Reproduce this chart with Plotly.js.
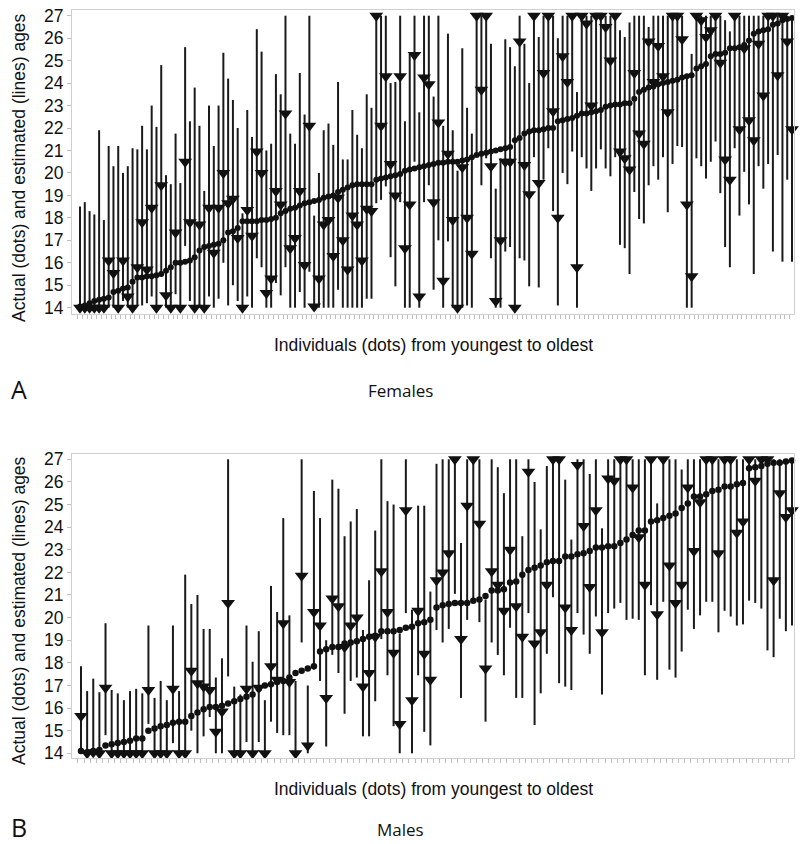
<!DOCTYPE html>
<html>
<head>
<meta charset="utf-8">
<script src="https://cdn.plot.ly/plotly-3.0.1.min.js"></script>
<style>html,body{margin:0;padding:0;background:#fff;}#chart{width:800px;height:844px;}</style>
</head>
<body>
<div id="chart"></div>
<script>
// ---------- Panel A: Females (150 individuals, youngest to oldest) ----------
const femaleActual = [
14.05,14.1,14.2,14.3,14.35,14.4,14.45,14.7,14.75,14.85,
14.9,15.15,15.35,15.35,15.4,15.4,15.45,15.5,15.65,15.8,
16.0,16.0,16.05,16.1,16.25,16.55,16.7,16.75,16.8,16.85,
17.0,17.35,17.4,17.55,17.85,17.85,17.85,17.85,17.9,17.9,
17.95,18.0,18.2,18.3,18.4,18.45,18.55,18.65,18.7,18.75,
18.8,18.9,18.95,19.0,19.15,19.25,19.35,19.45,19.5,19.5,
19.5,19.5,19.7,19.75,19.8,19.85,19.9,19.95,20.1,20.15,
20.2,20.25,20.3,20.35,20.4,20.45,20.45,20.5,20.5,20.5,
20.55,20.6,20.7,20.8,20.85,20.9,20.95,21.0,21.05,21.1,
21.15,21.45,21.55,21.75,21.85,21.9,21.9,21.95,22.0,22.0,
22.3,22.35,22.4,22.45,22.55,22.65,22.65,22.7,22.75,22.8,
22.95,23.0,23.05,23.05,23.1,23.1,23.3,23.6,23.7,23.8,
23.85,23.95,24.0,24.05,24.1,24.15,24.25,24.3,24.35,24.65,
24.75,24.85,25.2,25.3,25.3,25.35,25.55,25.55,25.6,25.7,
25.9,26.2,26.3,26.35,26.4,26.6,26.65,26.8,26.85,26.9
];
const femaleEstimate = [
14,14,14,14,14,14,16.1,15.55,14,16.1,
14.5,14,15.8,17.8,15.7,18.45,14,19.45,14.55,14,
17.35,14,20.5,17.8,14,17.7,14,18.45,16.45,18.45,
20.0,18.65,18.85,17.1,14,18.35,17.2,20.95,20.0,14.65,
15.3,19.2,18.6,22.65,16.65,17.1,19.2,15.9,22.1,14.05,
15.3,17.7,17.9,16.3,18.9,17.0,15.7,18.1,17.7,16.1,
18.4,18.3,27,22.1,24.3,20.4,19.0,24.3,16.65,18.6,
25.25,14.5,24.25,23.95,18.7,22.25,15.2,20.85,17.9,14,
20.25,18.0,16.4,27,23.7,27,20.3,14.3,17.0,20.5,
20.5,14,25.85,20.35,19.05,27,19.55,24.45,27,22.75,
18.0,25.2,24.05,27,15.8,27,26.65,23.0,27,27,
26.5,25.0,27,20.95,20.65,20.15,24.45,21.75,21.3,25.85,
24.05,25.65,24.3,22.7,27,27,25.95,18.6,15.4,27,
26.8,26.05,26.35,27,24.9,20.6,19.7,27,21.95,25.55,
22.35,21.45,25.75,23.45,27,27,24.35,27,25.85,21.95
];
const femaleLow = [
14,14,14,14,14,14,14,14,14,14.3,
14,14,14.1,14.1,14.2,14.5,14,15.4,14,14,
14.6,14,16.75,14.3,14,14,14,14.5,14,14.4,
16.0,14.1,15.0,14.3,14,14.5,14,16.2,15.8,14,
14,15.1,14.55,15.8,14,14,14.7,14,15.6,14,
14,14,14,14,14.8,14,14,14,14,14,
14.4,14.4,18.65,18.8,19.4,16.25,14.95,18.7,14,14,
20.5,14,18.7,19.45,14.8,17.0,14,16.95,14,14,
14,14.1,14,20.8,19.45,20.65,16.2,14,14,16.5,
16.7,14,16.2,16.1,14.95,20.7,14.9,19.7,21.1,18.3,
14.1,20.0,19.5,20.95,14,20.7,20.2,19.2,20.2,21.05,
20.2,19.85,20.7,16.8,16.65,15.5,19.15,17.95,17.75,19.45,
20.3,19.7,20.7,18.25,20.4,21.2,21.15,14,14,20.65,
20.3,19.75,20.5,21.4,19.1,16.7,15.8,21.1,18.1,20.05,
18.6,15.5,20.3,19.3,20.4,16.5,20.8,16.05,19.7,16.05
];
const femaleHigh = [
18.5,18.7,18.3,18.15,21.9,17.9,21.2,20.3,21.2,20.0,
20.3,21.1,21.05,22.1,21.05,23.0,22.05,24.8,19.9,19.5,
21.75,19.55,25.6,22.3,23.8,22.1,19.2,23.0,21.2,23.0,
25.35,24.2,23.25,22.0,18.2,22.8,21.6,26.4,25.4,21.0,
21.3,24.4,23.5,27,21.75,21.3,24.45,22.6,27,18.1,
20.0,21.9,22.2,21.25,24.05,20.6,20.6,22.8,21.7,21.1,
23.5,22.9,27,27,27,24.0,24.05,27,22.3,25.3,
27,22.7,27,27,23.4,27,22.1,26.2,21.9,20.1,
25.55,22.9,21.75,27,27,27,25.75,19.3,20.65,25.95,
25.6,24.75,27,25.75,24.0,27,26.05,27,27,27,
26.0,27,27,27,23.6,27,27,27,27,27,
27,27,27,26.35,26.05,26.7,27,27,27,26.5,
27,27,27,27,27,27,27,24.2,25.3,27,
27,27,27,27,27,26.8,26.3,27,27,27,
27,27,27,27,27,27,27,27,27,27
];

// ---------- Panel B: Males (117 individuals, youngest to oldest) ----------
const maleActual = [
14.1,14.05,14.1,14.15,14.35,14.4,14.45,14.5,14.55,14.65,
14.65,15.0,15.1,15.2,15.25,15.35,15.4,15.4,15.65,15.8,
15.95,16.05,16.05,16.1,16.2,16.3,16.4,16.5,16.6,16.85,
17.0,17.05,17.15,17.2,17.35,17.55,17.65,17.75,17.85,18.5,
18.6,18.7,18.7,18.85,18.9,18.95,19.05,19.15,19.2,19.4,
19.4,19.4,19.45,19.55,19.6,19.75,19.8,19.9,20.45,20.55,
20.6,20.65,20.65,20.65,20.75,20.8,20.95,21.2,21.2,21.25,
21.55,21.6,21.9,22.1,22.2,22.3,22.45,22.5,22.5,22.7,
22.7,22.8,22.85,22.95,23.1,23.1,23.15,23.15,23.3,23.45,
23.65,23.85,23.85,24.25,24.3,24.4,24.5,24.6,24.85,25.05,
25.35,25.35,25.45,25.6,25.65,25.8,25.8,25.9,25.95,26.6,
26.65,26.7,26.8,26.85,26.85,26.9,26.95
];
const maleEstimate = [
15.65,14,14.05,14,16.9,14,14,14,14,14,
14,16.8,14,14,14,16.85,14,14,17.65,17.1,
16.95,16.8,14.95,15.85,20.65,14,14,16.85,14,16.9,
14,17.85,17.25,19.75,17.15,14,21.85,14.35,20.25,19.65,
16.45,20.85,20.5,18.7,19.65,20.0,16.95,17.55,19.15,22.05,
20.25,18.45,15.3,24.75,16.35,20.3,18.4,17.25,21.65,22.0,
22.85,27,19.05,24.95,27,24.15,17.75,22.05,21.45,20.3,
23.0,20.5,19.15,26.45,18.85,19.35,21.45,27,27,20.45,
19.45,26.75,24.05,21.35,24.75,19.35,26.15,26.05,27,27,
25.75,23.55,21.45,27,20.15,27,22.3,20.65,21.45,25.75,
22.95,25.1,27,27,22.85,27,27,23.75,24.25,27,
26.05,27,27,21.65,25.5,24.45,24.75
];
const maleLow = [
14,14,14,14,14.8,14,14,14,14,14,
14,15.3,14,14,14,14.45,14,14,15.0,14,
14.75,15.6,14,14,17.4,14,14,14.5,14,14.5,
14,15.4,14.9,14.8,14.8,14,18.9,14,17.7,17.2,
14.3,18.35,17.55,15.75,17.2,17.35,14.75,14.75,16.3,19.05,
17.45,15.2,14,20.2,14,17.45,14.95,14.35,19.45,18.9,
19.5,21.05,16.45,19.9,20.8,19.8,15.4,18.9,18.35,17.45,
19.55,16.45,16.45,20.2,15.25,16.65,18.4,20.9,17.1,16.95,
16.8,20.2,19.25,18.4,20.05,16.6,20.2,20.4,20.65,19.9,
19.95,19.9,17.45,20.55,17.25,20.7,17.7,17.35,18.5,20.35,
19.5,20.1,20.7,20.7,19.35,20.3,20.05,19.65,19.7,20.75,
20.65,20.4,18.55,18.25,19.95,19.4,19.65
];
const maleHigh = [
17.85,16.75,17.3,16.7,19.75,16.8,16.65,16.35,16.75,16.85,
16.65,19.65,16.45,17.2,16.35,19.65,16.75,21.9,20.6,21.0,
19.5,19.5,17.35,18.2,27,16.95,16.6,19.65,18.05,19.4,
16.35,21.4,20.25,24.4,20.1,17.2,27,17.0,25.6,24.4,
19.0,26.1,25.7,23.6,24.25,24.8,19.45,21.65,23.85,27,
25.15,25.0,19.3,27,20.35,24.95,24.95,21.15,26.8,27,
27,27,23.3,27,27,27,20.8,27,26.65,25.5,
27,27,23.6,27,26.0,23.9,26.7,27,27,26.1,
23.45,27,27,26.35,27,23.95,27,27,27,27,
27,27,27,27,25.05,27,27,27,26.55,27,
27,27,27,27,27,27,27,27,27,27,
27,27,27,27,27,27,27
];

const femaleIdx = femaleActual.map((_, i) => i + 1);
const maleIdx = maleActual.map((_, i) => i + 1);

const INK = '#111111';
const ARIAL = 'Liberation Sans, Arial, sans-serif';
const SEGOE = 'Open Sans, Noto Sans, sans-serif';

function panel(idx, actual, est, low, high, xa, ya, dotSize) {
  return [
    {
      type: 'scatter', mode: 'markers', x: idx, y: est, xaxis: xa, yaxis: ya,
      marker: {symbol: 'triangle-down', size: 12, color: INK},
      error_y: {
        type: 'data', symmetric: false,
        array: est.map((e, i) => high[i] - e),
        arrayminus: est.map((e, i) => e - low[i]),
        color: '#1a1a1a', thickness: 2, width: 0
      },
      cliponaxis: false, showlegend: false, hoverinfo: 'skip'
    },
    {
      type: 'scatter', mode: 'markers', x: idx, y: actual, xaxis: xa, yaxis: ya,
      marker: {symbol: 'circle', size: dotSize, color: INK},
      cliponaxis: false, showlegend: false, hoverinfo: 'skip'
    }
  ];
}

const data = [
  ...panel(femaleIdx, femaleActual, femaleEstimate, femaleLow, femaleHigh, 'x', 'y', 6),
  ...panel(maleIdx, maleActual, maleEstimate, maleLow, maleHigh, 'x2', 'y2', 6.5)
];

const yTicks = [];
for (let v = 14; v <= 27; v++) yTicks.push(v);

function xAxis(n, range, anchor) {
  const tv = [];
  for (let k = 1; k <= n + 1; k++) tv.push(k - 0.5);
  return {
    domain: [72 / 800, 794 / 800], range: range, anchor: anchor,
    showline: true, mirror: true, linecolor: '#cfcfcf', linewidth: 1,
    ticks: 'outside', tickvals: tv, ticklen: 4, tickwidth: 1, tickcolor: '#c0c0c0',
    showticklabels: false, showgrid: false, zeroline: false, fixedrange: true
  };
}
function yAxis(domain, range, anchor) {
  return {
    domain: domain, range: range, anchor: anchor,
    showline: true, mirror: true, linecolor: '#cfcfcf', linewidth: 1,
    ticks: 'outside', tickvals: yTicks, ticklen: 4, tickwidth: 1, tickcolor: '#c0c0c0',
    tickfont: {family: ARIAL, size: 17.5, color: INK},
    showgrid: false, zeroline: false, fixedrange: true
  };
}

const P = (py) => 1 - py / 844;

const ann = (text, px, py, size, family, angle) => ({
  text: text, xref: 'paper', yref: 'paper', x: px / 800, y: P(py),
  xanchor: 'center', yanchor: 'middle', showarrow: false,
  textangle: angle || 0, font: {family: family, size: size, color: INK}
});

const layout = {
  width: 800, height: 844,
  margin: {l: 0, r: 0, t: 0, b: 0},
  paper_bgcolor: '#ffffff', plot_bgcolor: '#ffffff',
  showlegend: false,
  xaxis: xAxis(150, [1 - 8 / 4.779, 150 + 2 / 4.779], 'y'),
  yaxis: yAxis([P(314), P(10)], [14 - 6.3 / 22.46, 27 + 5.7 / 22.46], 'x'),
  xaxis2: xAxis(117, [1 - 9 / 6.13, 117 + 2 / 6.13], 'y2'),
  yaxis2: yAxis([P(758), P(454)], [14 - 4.7 / 22.615, 27 + 5.3 / 22.615], 'x2'),
  annotations: [
    ann('Actual (dots) and estimated (lines) ages', 19, 168, 17.5, ARIAL, -90),
    ann('Individuals (dots) from youngest to oldest', 433, 345, 17.5, ARIAL),
    ann('A', 19, 389, 25, SEGOE),
    ann('Females', 400, 390, 17, SEGOE),
    ann('Actual (dots) and estimated (lines) ages', 19, 611, 17.5, ARIAL, -90),
    ann('Individuals (dots) from youngest to oldest', 433, 789, 17.5, ARIAL),
    ann('B', 19, 827, 25, SEGOE),
    ann('Males', 400, 829, 17, SEGOE)
  ]
};

Plotly.newPlot('chart', data, layout, {staticPlot: true, displayModeBar: false});
</script>
</body>
</html>
